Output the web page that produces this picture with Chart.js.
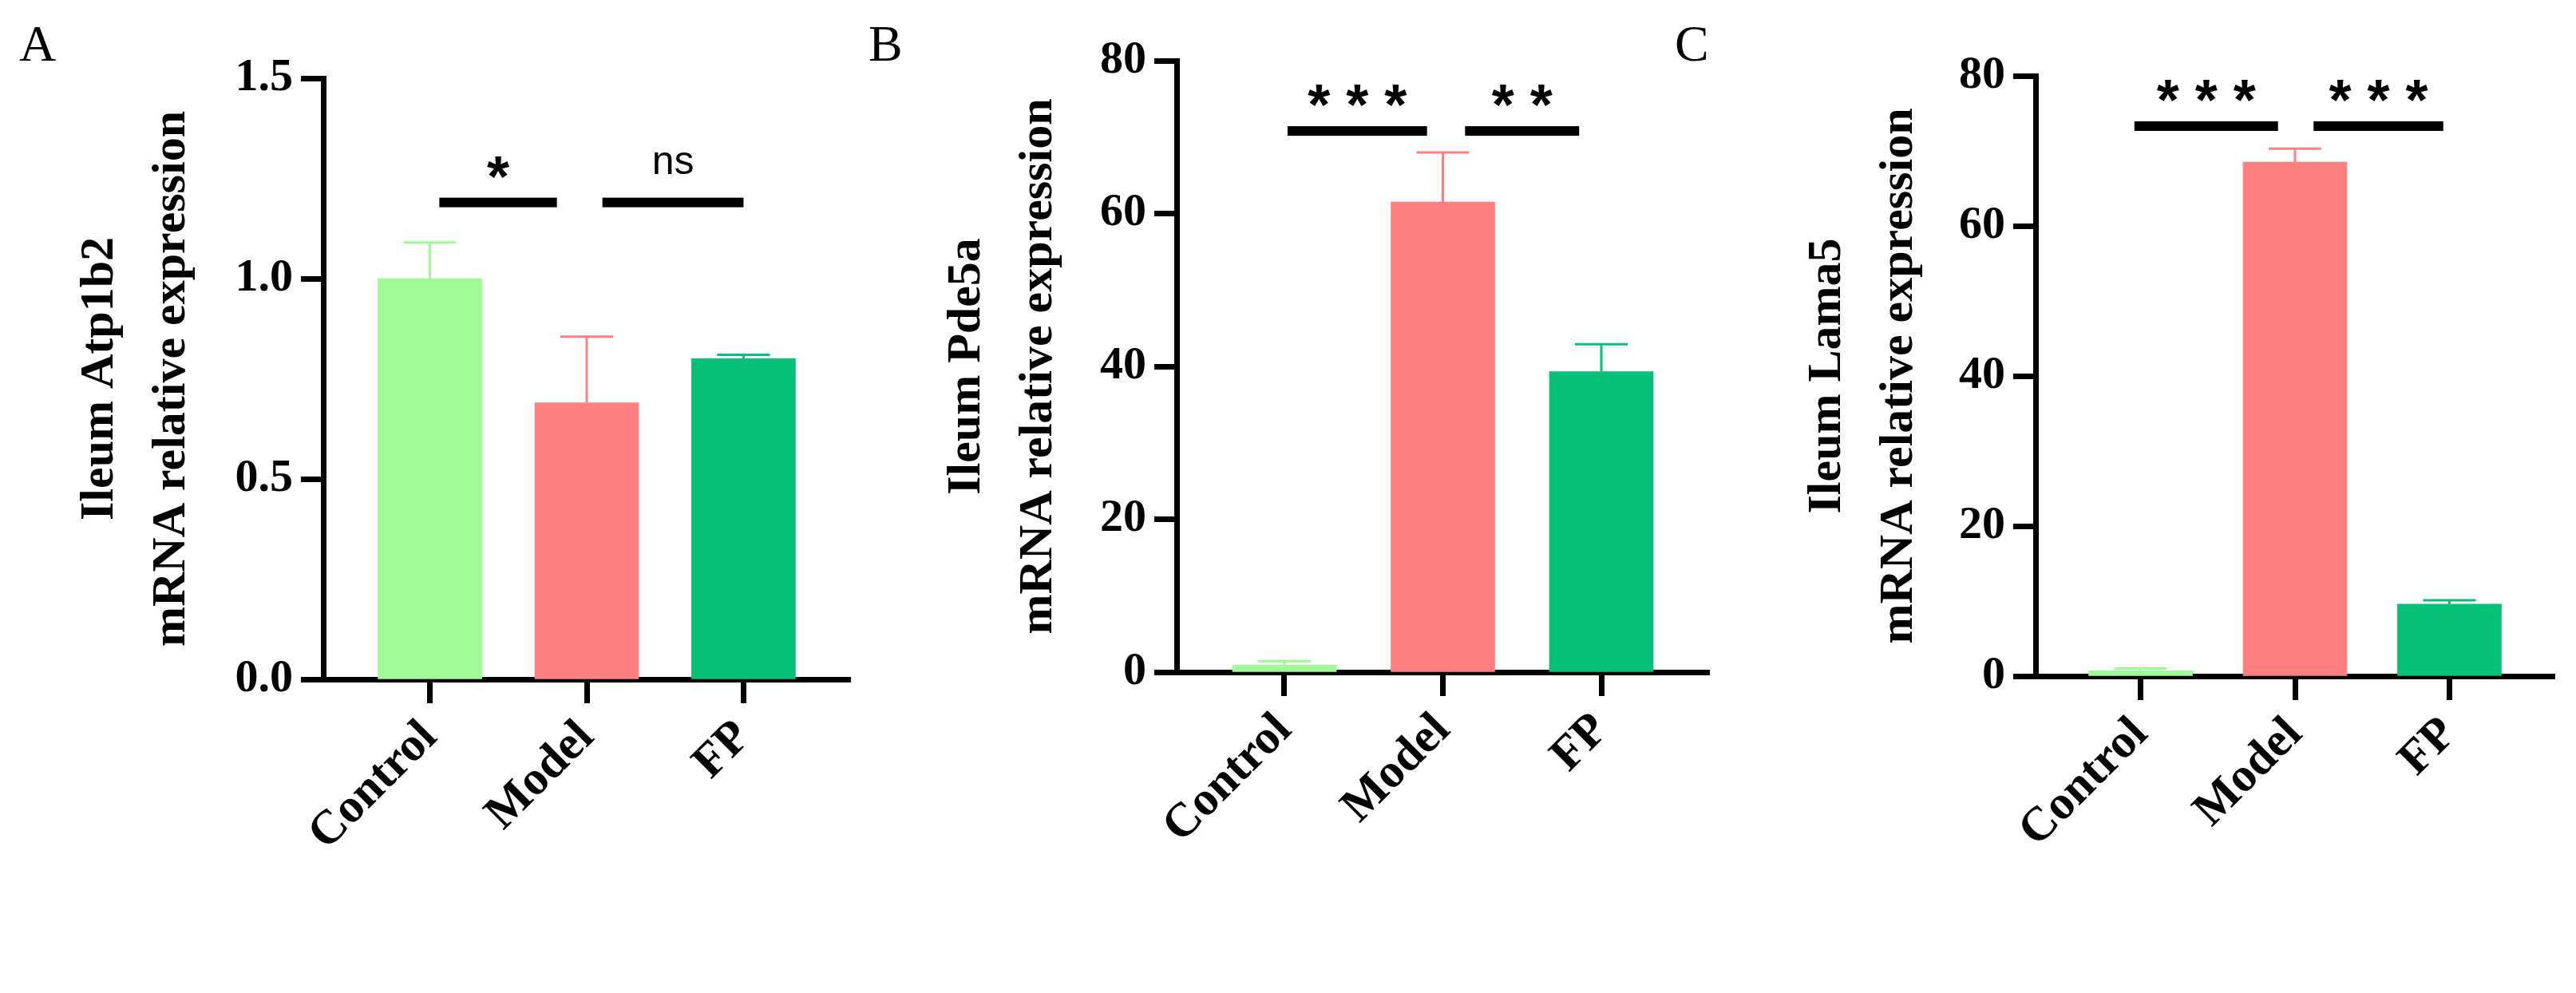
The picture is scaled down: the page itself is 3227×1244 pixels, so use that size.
<!DOCTYPE html>
<html>
<head>
<meta charset="utf-8">
<script src="https://cdn.jsdelivr.net/npm/chart.js@4.4.1/dist/chart.umd.min.js"></script>
<style>
  body { margin: 0; background: #fff; width: 3227px; height: 1244px; position: relative; overflow: hidden; }
  .panel { position: absolute; top: 0; height: 1244px; }
  .letter { position: absolute; top: 18px; font: 64px "Liberation Serif", serif; color: #000; }
</style>
</head>
<body>
<div class="letter" style="left:24px">A</div>
<div class="letter" style="left:1088px">B</div>
<div class="letter" style="left:2098px">C</div>
<div class="panel" style="left:0px;width:1070px"><canvas id="chartA"></canvas></div>
<div class="panel" style="left:1100px;width:1046px"><canvas id="chartB"></canvas></div>
<div class="panel" style="left:2180px;width:1047px"><canvas id="chartC"></canvas></div>
<script>
// Groups and colours
const groups = ['Control', 'Model', 'FP'];
const barColors = ['#a0fa96', '#ff8080', '#06c077'];

// Panel A: Atp1b2
const atpMeans = [1.0, 0.69, 0.80];
const atpErrors = [0.09, 0.165, 0.01];
// Panel B: Pde5a
const pdeMeans = [0.9, 61.5, 39.3];
const pdeErrors = [0.5, 6.5, 3.6];
// Panel C: Lama5
const lamaMeans = [0.7, 68.5, 9.6];
const lamaErrors = [0.3, 1.8, 0.5];

// significance bars: [fromX, toX, y, label]
const atpSig = [[0.06, 0.81, 1.19, '*'], [1.10, 2.0, 1.19, 'ns']];
const pdeSig = [[0.02, 0.90, 70.8, '***'], [1.14, 1.86, 70.8, '**']];
const lamaSig = [[-0.04, 0.89, 73.3, '***'], [1.12, 1.96, 73.3, '***']];

const serifBold = { family: '"Liberation Serif", "Times New Roman", serif', weight: 'bold', size: 58 };
const serifBoldX = { family: '"Liberation Serif", "Times New Roman", serif', weight: 'bold', size: 60 };

// error bars + significance lines
const extrasPlugin = {
    id: 'extras',
    afterDatasetsDraw(chart) {
        const ctx = chart.ctx;
        const cfg = chart.options.plugins.extras;
        const xs = chart.scales.x, ys = chart.scales.y;
        const meta = chart.getDatasetMeta(0);
        ctx.save();
        meta.data.forEach(function(bar, i) {
            const top = ys.getPixelForValue(cfg.means[i] + cfg.errors[i]);
            ctx.strokeStyle = barColors[i];
            ctx.lineWidth = 3;
            ctx.beginPath();
            ctx.moveTo(bar.x, bar.y);
            ctx.lineTo(bar.x, top);
            ctx.moveTo(bar.x - 33, top);
            ctx.lineTo(bar.x + 33, top);
            ctx.stroke();
        });
        cfg.sig.forEach(function(s) {
            const y = ys.getPixelForValue(s[2]);
            const x1 = xs.getPixelForValue(s[0]);
            const x2 = xs.getPixelForValue(s[1]);
            ctx.fillStyle = '#000';
            ctx.fillRect(x1, y - 6, x2 - x1, 12);
            ctx.textAlign = 'center';
            ctx.textBaseline = 'alphabetic';
            if (s[3] === 'ns') {
                ctx.font = '50px "Liberation Sans", Arial, sans-serif';
                ctx.fillText(s[3], (x1 + x2) / 2, y - 36);
            } else {
                ctx.font = 'bold 72px "Liberation Sans", Arial, sans-serif';
                ctx.fillText(s[3].split('').join(' '), (x1 + x2) / 2, y - 8);
            }
        });
        ctx.restore();
    }
};

function makeChart(id, means, errors, sig, yMax, yStep, decimals, title, pad, axisWidth, xHeight) {
    const ctx = document.getElementById(id).getContext('2d');
    return new Chart(ctx, {
        type: 'bar',
        data: {
            datasets: [{
                data: means.map(function(v, i) { return { x: i, y: v }; }),
                backgroundColor: barColors,
                barThickness: 130,
                borderWidth: 0
            }]
        },
        options: {
            responsive: true,
            maintainAspectRatio: false,
            animation: false,
            devicePixelRatio: 1,
            layout: { padding: pad },
            plugins: {
                legend: { display: false },
                tooltip: { enabled: false },
                extras: { means: means, errors: errors, sig: sig }
            },
            scales: {
                x: {
                    type: 'linear',
                    offset: false,
                    min: -0.68,
                    max: 2.68,
                    afterBuildTicks: function(s) { s.ticks = [{ value: 0 }, { value: 1 }, { value: 2 }]; },
                    afterFit: function(s) { s.height = xHeight; },
                    border: { display: true, color: '#000', width: 7 },
                    grid: { display: true, offset: false, drawOnChartArea: false, drawTicks: true, tickLength: 30, tickWidth: 7, color: '#000' },
                    ticks: {
                        color: '#000', font: serifBoldX, minRotation: 45, maxRotation: 45, padding: 8,
                        autoSkip: false,
                        callback: function(v) { return groups[v]; }
                    }
                },
                y: {
                    min: 0,
                    max: yMax,
                    afterBuildTicks: function(s) {
                        const t = [];
                        for (let v = 0; v <= yMax + 1e-9; v += yStep) t.push({ value: v });
                        s.ticks = t;
                    },
                    afterFit: function(s) { s.width = axisWidth; },
                    border: { display: true, color: '#000', width: 7 },
                    grid: { display: true, drawOnChartArea: false, drawTicks: true, tickLength: 28, tickWidth: 7, color: '#000' },
                    ticks: {
                        color: '#000', font: serifBold, padding: 10,
                        callback: function(v) { return v.toFixed(decimals); }
                    },
                    title: {
                        display: true,
                        text: title,
                        color: '#000',
                        font: { family: '"Liberation Serif", "Times New Roman", serif', weight: 'bold', size: 60, lineHeight: 1.5 },
                        padding: 0
                    }
                }
            }
        },
        plugins: [extrasPlugin]
    });
}

makeChart('chartA', atpMeans, atpErrors, atpSig, 1.5, 0.5, 1,
    ['Ileum Atp1b2', 'mRNA relative expression'],
    { left: 80, top: 98, right: 5, bottom: 0 }, 325, 393);
makeChart('chartB', pdeMeans, pdeErrors, pdeSig, 80, 20, 0,
    ['Ileum Pde5a', 'mRNA relative expression'],
    { left: 66, top: 76, right: 5, bottom: 0 }, 308, 402);
makeChart('chartC', lamaMeans, lamaErrors, lamaSig, 80, 20, 0,
    ['Ileum Lama5', 'mRNA relative expression'],
    { left: 64, top: 95, right: 27, bottom: 0 }, 306, 397);
</script>
</body>
</html>
